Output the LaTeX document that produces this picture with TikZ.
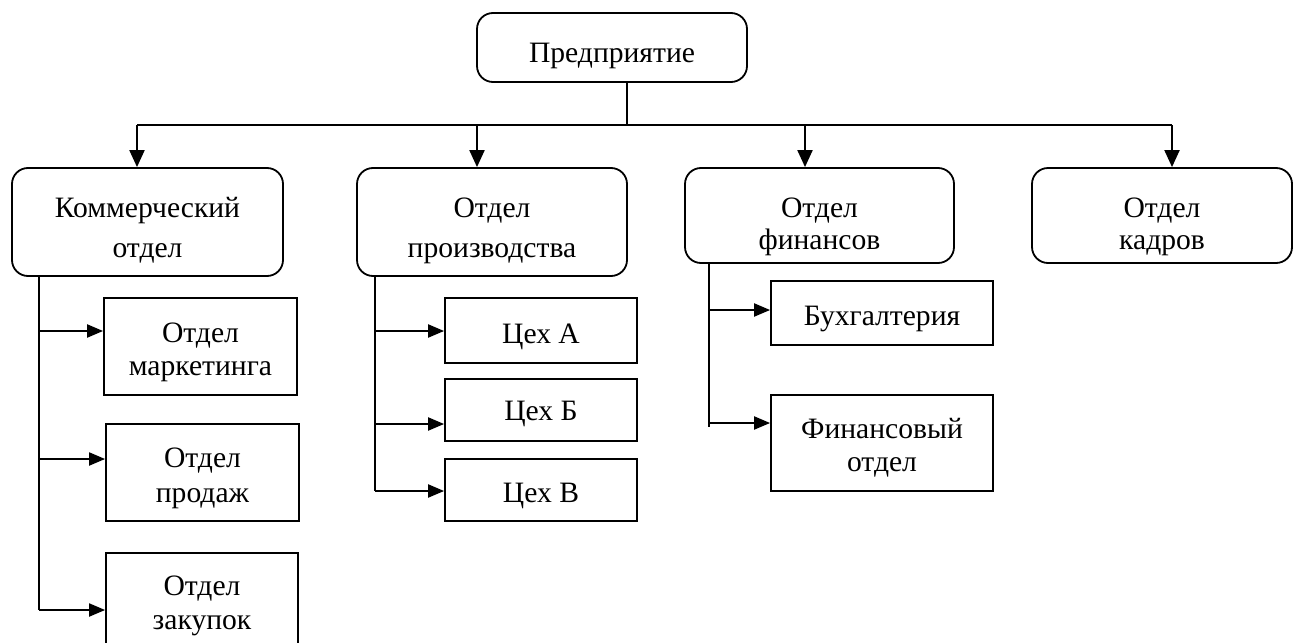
\documentclass[tikz,border=0pt]{standalone}
\usepackage{fontspec}
\setmainfont{Liberation Serif}
\usetikzlibrary{arrows.meta}
\tikzset{
	unit/.style={draw, line width=0.9pt, rounded corners=8pt, inner sep=0pt},
	sub/.style={draw, line width=0.9pt, inner sep=0pt},
	lbl/.style={inner sep=0pt, align=center, anchor=base, font=\fontsize{14.8pt}{#1}\selectfont},
	lbl/.default=16.5pt,
	arr/.style={line width=1pt, -{Triangle[length=8.5pt,width=7.5pt]}},
	arrh/.style={line width=1pt, -{Triangle[length=8pt,width=6.5pt]}},
	stem/.style={line width=0.7pt},
}
\begin{document}
\begin{tikzpicture}[x=0.5pt,y=-0.5pt]
		%%%%% START %%%%%
		\useasboundingbox (0,0) rectangle (1293,642);
		
		\node[unit, minimum width=135pt, minimum height=34.5pt] (top) at (612,47.5) {};
		\node[lbl] (topT) at (612,62) {Предприятие};
		
		\node[unit, minimum width=135.5pt, minimum height=54pt] (kom) at (147.5,222) {};
		\node[lbl=20pt] (komT) at (147.5,257) {Коммерческий\\отдел};
		\node[unit, minimum width=135pt, minimum height=54pt] (proizv) at (492,222) {};
		\node[lbl=20pt] (proizvT) at (492,257) {Отдел\\производства};
		\node[unit, minimum width=134.5pt, minimum height=47.5pt] (fin) at (819.5,215.5) {};
		\node[lbl=16pt] (finT) at (819.5,249) {Отдел\\финансов};
		\node[unit, minimum width=130pt, minimum height=47.5pt] (kadr) at (1162,215.5) {};
		\node[lbl=16pt] (kadrT) at (1162,249) {Отдел\\кадров};
		
		\node[sub, minimum width=96.5pt, minimum height=48.5pt] (mark) at (200.5,346.5) {};
		\node[lbl] (markT) at (200.5,375) {Отдел\\маркетинга};
		\node[sub, minimum width=96.5pt, minimum height=48.5pt] (prod) at (202.5,472.5) {};
		\node[lbl=17.5pt] (prodT) at (202.5,502) {Отдел\\продаж};
		\node[sub, minimum width=96pt, minimum height=48.5pt] (zak) at (202,601.5) {};
		\node[lbl=17pt] (zakT) at (202,629) {Отдел\\закупок};
		
		\node[sub, minimum width=96pt, minimum height=32.5pt] (cehA) at (541,330.5) {};
		\node[lbl] (cehAT) at (541,343) {Цех А};
		\node[sub, minimum width=96pt, minimum height=31pt] (cehB) at (541,410) {};
		\node[lbl] (cehBT) at (541,420) {Цех Б};
		\node[sub, minimum width=96pt, minimum height=31pt] (cehV) at (541,490) {};
		\node[lbl] (cehVT) at (541,502) {Цех В};
		
		\node[sub, minimum width=111pt, minimum height=32pt] (buh) at (882,313) {};
		\node[lbl] (buhT) at (882,325) {Бухгалтерия};
		\node[sub, minimum width=111pt, minimum height=48pt] (finot) at (882,443) {};
		\node[lbl] (finotT) at (882,471) {Финансовый\\отдел};
		
		% top level
		\coordinate (busT) at (627,125);
		\draw[stem] (busT |- top.south) -- (busT);
		\draw[line width=1pt] (137,125) -- (1172,125);
		\foreach \n/\x in {kom/137, proizv/477, fin/805, kadr/1172}
			{\coordinate (bus-\n) at (\x,125);
			\draw[arr] (bus-\n) -- (bus-\n |- \n.north);}
		
		% sub-units
		\coordinate (komS) at (39,610);
		\draw[stem] (komS |- kom.south) -- (komS);
		\foreach \n/\y in {mark/331, prod/459, zak/610}
			\draw[arrh] (komS |- 0,\y) -- (\n.west |- 0,\y);
		
		\coordinate (proizvS) at (375,491);
		\draw[stem] (proizvS |- proizv.south) -- (proizvS);
		\foreach \n/\y in {cehA/331, cehB/424, cehV/491}
			\draw[arrh] (proizvS |- 0,\y) -- (\n.west |- 0,\y);
		
		\coordinate (finS) at (709,427);
		\draw[stem] (finS |- fin.south) -- (finS);
		\foreach \n/\y in {buh/310, finot/423}
			\draw[arrh] (finS |- 0,\y) -- (\n.west |- 0,\y);
		
		%%%%% END %%%%%
	\end{tikzpicture}
\end{document}
